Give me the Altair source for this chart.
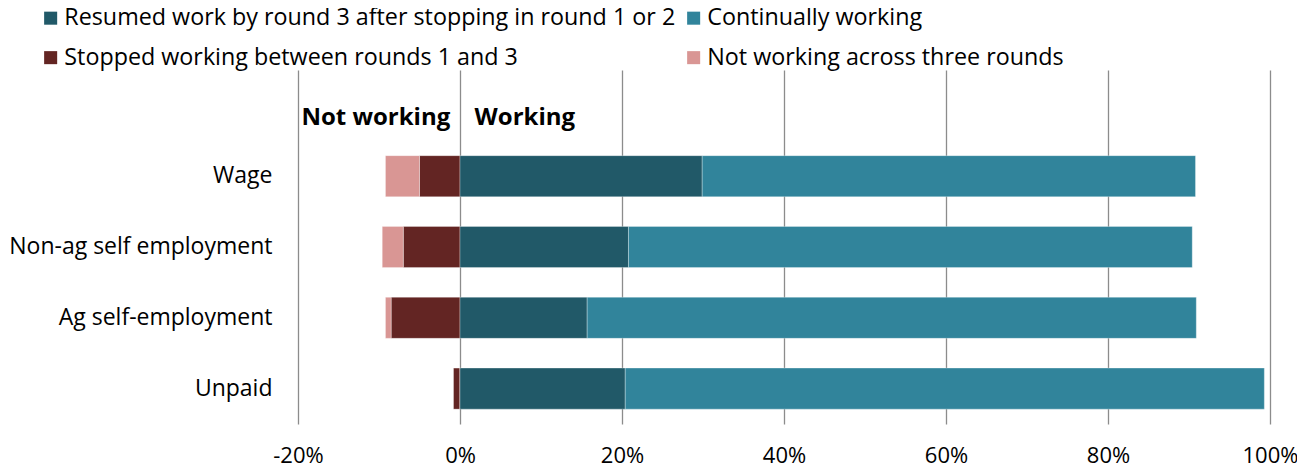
import altair as alt
import pandas as pd

categories = ["Wage", "Non-ag self employment", "Ag self-employment", "Unpaid"]
# legend order (column-major in two columns)
series = [
    "Resumed work by round 3 after stopping in round 1 or 2",
    "Stopped working between rounds 1 and 3",
    "Continually working",
    "Not working across three rounds",
]
colors = ["#215968", "#632523", "#31849B", "#D99694"]

# percentages
resumed = [29.9, 20.8, 15.7, 20.4]
continual = [60.9, 69.6, 75.2, 78.9]
stopped = [5.0, 7.0, 8.5, 0.8]          # drawn to the left of zero
not_working = [4.2, 2.6, 0.7, 0.0]      # drawn to the left of zero

x_ticks = [-0.2, 0, 0.2, 0.4, 0.6, 0.8, 1.0]
blank_row = " "
annotations = ["Not working", "Working"]
annotation_x = [-0.012, 0.018]
annotation_align = ["right", "left"]

rows = []
for i, c in enumerate(categories):
    rows.append({"cat": c, "series": series[1], "v": -stopped[i] / 100, "ord": 0})
    rows.append({"cat": c, "series": series[3], "v": -not_working[i] / 100, "ord": 1})
    rows.append({"cat": c, "series": series[0], "v": resumed[i] / 100, "ord": 2})
    rows.append({"cat": c, "series": series[2], "v": continual[i] / 100, "ord": 3})
df = pd.DataFrame(rows)

ann = pd.DataFrame({"t": annotations, "x": annotation_x, "cat": [blank_row] * 2, "al": annotation_align})

FONT = "Open Sans"
y_domain = [blank_row] + categories

xscale = alt.Scale(domain=[-0.2, 1.0], nice=False, zero=False)
yscale = alt.Scale(domain=y_domain, paddingInner=0.42, paddingOuter=0.21)

bars = alt.Chart(df).mark_bar(stroke="#ffffff", strokeWidth=0.6, strokeOpacity=0.5).encode(
    x=alt.X("v:Q", stack="zero", scale=xscale, title=None,
            axis=alt.Axis(values=x_ticks, grid=True, gridColor="#8c8c8c", gridWidth=1.3,
                          domain=False, ticks=False, labelPadding=21, labelFontSize=22,
                          labelFont=FONT, labelColor="#000000", labelFlush=False,
                          labelExpr="(datum.value < 0 ? '-' : '') + format(abs(datum.value), '.0%')")),
    y=alt.Y("cat:N", scale=yscale, sort=y_domain, title=None,
            axis=alt.Axis(domain=False, ticks=False, grid=False, labelPadding=26,
                          labelFontSize=23, labelFont=FONT, labelColor="#000000", labelLimit=400)),
    color=alt.Color("series:N", scale=alt.Scale(domain=series, range=colors), title=None,
                    legend=alt.Legend(orient="none", legendX=-259, legendY=-63.5, columns=2,
                                      columnPadding=6, rowPadding=15.5, symbolType="square",
                                      symbolSize=170, symbolStrokeWidth=0, labelFontSize=23.3,
                                      labelFont=FONT, labelColor="#000000", labelOffset=2,
                                      labelLimit=800)),
    order=alt.Order("ord:Q"),
)

text_left = alt.Chart(ann[ann.al == "right"]).mark_text(
    fontWeight="bold", fontSize=24, font=FONT, dy=13, align="right", color="#000000").encode(
    x=alt.X("x:Q", scale=xscale), y=alt.Y("cat:N", scale=yscale, sort=y_domain), text="t:N")
text_right = alt.Chart(ann[ann.al == "left"]).mark_text(
    fontWeight="bold", fontSize=24, font=FONT, dy=13, align="left", color="#000000").encode(
    x=alt.X("x:Q", scale=xscale), y=alt.Y("cat:N", scale=yscale, sort=y_domain), text="t:N")

chart = (bars + text_left + text_right).properties(
    width=972, height=354,
    autosize=alt.AutoSizeParams(type="none"),
    padding={"left": 290, "top": 62, "right": 27, "bottom": 44},
).configure_view(stroke=None)

chart.save("out.html", embed_options={"renderer": "svg", "actions": False})
